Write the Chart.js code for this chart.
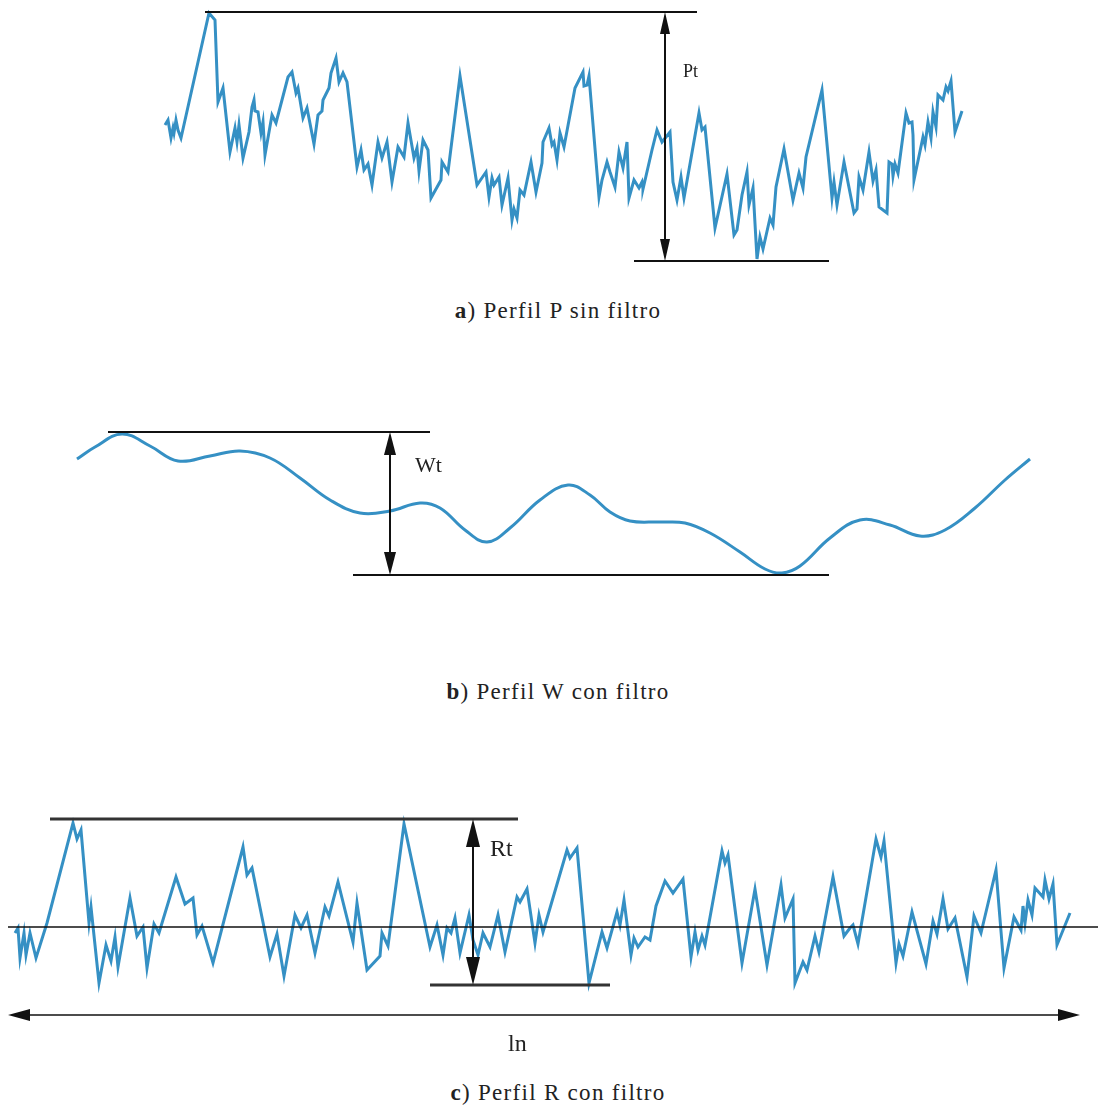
<!DOCTYPE html>
<html>
<head>
<meta charset="utf-8">
<script src="https://cdn.jsdelivr.net/npm/chart.js@4.4.1/dist/chart.umd.min.js"></script>
<style>
  body { margin: 0; background: #fff; width: 1098px; height: 1111px; position: relative; overflow: hidden; font-family: "Liberation Serif", "Noto Serif", "DejaVu Serif", "Times New Roman", serif; }
  canvas { position: absolute; left: 0; }
  .pie { position: absolute; left: 9px; width: 1098px; text-align: center; font-size: 23px; letter-spacing: 1.3px; color: #222; line-height: 1; }
</style>
</head>
<body>
<canvas id="graficaP" width="1098" height="280" style="top:0px"></canvas>
<div class="pie" style="top:299px"><b>a</b>) Perfil P sin filtro</div>
<canvas id="graficaW" width="1098" height="200" style="top:400px"></canvas>
<div class="pie" style="top:680px"><b>b</b>) Perfil W con filtro</div>
<canvas id="graficaR" width="1098" height="275" style="top:790px"></canvas>
<div class="pie" style="top:1081px"><b>c</b>) Perfil R con filtro</div>

<script>
/*------------------------- DATOS -------------------------*/
// Perfil P (sin filtro): posicion x y altura sobre el valle mas bajo
var posP = [165,168,171,173,174,176,178,181,209,215,218,223,230,235,237,239,243,249,252,254,255,258,261,263,265,272,276,288,292,296,298,303,307,314,318,322,323,329,331,336,339,343,347,357,361,364,368,372,378,382,387,392,398,404,408,414,417,419,423,428,431,441,442,448,460,477,486,489,492,494,499,502,508,512,514,517,520,524,531,536,542,543,549,552,554,557,560,564,575,583,584,587,589,599,602,607,610,615,619,623,627,629,634,639,642,643,652,657,662,670,673,677,681,684,699,702,705,715,727,734,737,742,747,749,753,757,760,763,770,773,776,784,793,799,803,806,822,832,834,837,844,854,857,859,863,869,873,876,879,887,889,892,893,895,898,906,909,912,913,914,923,925,928,931,933,936,938,943,946,948,951,955,962];
var alturaP = [136,141,123,133,128,141,131,123,248,241,159,173,109,133,119,136,103,129,154,161,150,149,128,139,106,146,138,184,189,168,173,143,153,117,146,150,161,173,188,203,179,188,179,94,111,91,97,76,119,103,119,79,114,104,138,103,113,90,121,111,63,81,99,89,185,76,89,64,83,76,84,56,83,41,52,43,71,66,99,69,98,119,133,116,119,101,128,114,173,189,175,176,185,64,81,99,89,74,109,93,119,63,81,73,79,72,111,131,119,129,79,61,84,63,148,131,134,33,87,26,31,66,89,56,73,2,24,12,43,36,74,112,61,88,73,104,171,63,79,56,99,48,52,84,71,109,80,91,54,48,99,97,85,97,88,148,138,139,126,81,124,116,139,123,149,134,166,161,174,170,180,129,150];

// Perfil W (ondulacion): altura sobre el valle mas bajo
var posW = [77,95,122,150,178,210,240,270,300,330,360,390,420,440,465,487,510,540,568,590,610,630,660,685,710,740,765,782,800,830,860,890,920,945,975,1005,1030];
var alturaW = [116,128,141,129,114,119,124,117,97,75,62,64,72,67,45,33,47,75,90,80,63,54,53,52,42,23,6,2,9,37,55,50,39,45,67,95,116];

// Perfil R (rugosidad): altura respecto a la linea media
var posR = [15,18,20,24,26,30,36,47,73,77,81,89,91,99,106,111,115,118,130,137,143,147,154,159,176,185,193,197,202,213,243,247,252,270,277,284,295,301,307,315,325,329,338,353,357,367,380,382,388,404,430,437,443,447,451,455,460,469,473,478,483,490,498,505,517,520,527,535,539,543,567,570,577,589,602,607,617,620,624,631,634,638,645,650,656,665,673,683,691,695,698,702,705,722,725,728,742,755,767,781,785,793,795,803,807,815,819,833,844,850,853,858,876,881,884,896,899,903,912,926,933,937,943,948,955,967,974,981,996,1004,1014,1021,1023,1025,1028,1032,1035,1043,1045,1049,1053,1057,1070];
var alturaR = [-6,-1,-31,-6,-28,-6,-31,4,104,88,97,4,20,-56,-18,-34,-10,-40,29,-9,0,-41,3,-6,50,23,29,-8,1,-36,80,52,59,-30,-7,-49,12,-1,12,-26,20,11,45,-15,24,-43,-29,-6,-19,103,-20,2,-28,-1,-6,9,-26,12,-13,-28,-6,-20,12,-25,30,25,38,-16,12,-5,77,69,79,-56,-5,-21,15,2,27,-28,-11,-20,-10,-13,21,46,34,48,-30,-5,-23,-9,-18,76,64,72,-36,38,-38,42,9,28,-56,-35,-43,-9,-25,50,-9,-1,2,-17,88,70,86,-36,-17,-29,15,-37,6,-7,28,-2,9,-50,11,-6,57,-41,10,-3,21,4,27,12,39,30,47,28,43,-18,14];

// Cotas: [x inicio, x fin, altura]
var lineasP = [[205, 697, 249], [634, 829, 0]];
var flechaP = [665, 249, 0];
var lineasW = [[108, 430, 143], [353, 829, 0]];
var flechaW = [390, 143, 0];
var lineasR = [[50, 518, 108], [430, 610, -58]];
var flechaR = [473, 108, -58];
var mediaR = [8, 1098, 0];
var longitudR = [8, 1080, -88];

var azul = '#3590c4';
var fuente = '"Liberation Serif", "Noto Serif", "DejaVu Serif", "Times New Roman", serif';

function puntos(xs, ys){
    let arreglo = [];
    for(let i=0; i<xs.length; i++){
        arreglo.push({x: xs[i], y: ys[i]});
    }
    return arreglo;
}

function cabeza(ctx, x, y, dx, dy, largo, ancho){
    // punta en (x,y), apuntando en direccion (dx,dy)
    ctx.beginPath();
    ctx.moveTo(x, y);
    ctx.lineTo(x - dx*largo - dy*ancho, y - dy*largo + dx*ancho);
    ctx.lineTo(x - dx*largo + dy*ancho, y - dy*largo - dx*ancho);
    ctx.closePath();
    ctx.fill();
}

const pluginCotas = {
    id: 'cotas',
    afterDatasetsDraw(chart, args, op){
        const ctx = chart.ctx;
        const sx = chart.scales.x, sy = chart.scales.y;
        ctx.save();
        ctx.fillStyle = '#111';
        (op.lineas || []).forEach(function(l){
            ctx.strokeStyle = op.colorLinea || '#111';
            ctx.lineWidth = op.grosor || 2;
            ctx.beginPath();
            ctx.moveTo(sx.getPixelForValue(l[0]), sy.getPixelForValue(l[2]));
            ctx.lineTo(sx.getPixelForValue(l[1]), sy.getPixelForValue(l[2]));
            ctx.stroke();
        });
        if(op.media){
            ctx.strokeStyle = '#111';
            ctx.lineWidth = 1.3;
            ctx.beginPath();
            ctx.moveTo(sx.getPixelForValue(op.media[0]), sy.getPixelForValue(op.media[2]));
            ctx.lineTo(sx.getPixelForValue(op.media[1]), sy.getPixelForValue(op.media[2]));
            ctx.stroke();
        }
        if(op.flecha){
            const f = op.flecha;
            const x = sx.getPixelForValue(f[0]);
            const y1 = sy.getPixelForValue(f[1]), y2 = sy.getPixelForValue(f[2]);
            ctx.strokeStyle = '#111';
            ctx.lineWidth = 2;
            ctx.beginPath();
            ctx.moveTo(x, y1 + 5);
            ctx.lineTo(x, y2 - 5);
            ctx.stroke();
            cabeza(ctx, x, y1, 0, -1, op.largo, op.ancho);
            cabeza(ctx, x, y2, 0, 1, op.largo, op.ancho);
        }
        if(op.longitud){
            const g = op.longitud;
            const x1 = sx.getPixelForValue(g[0]), x2 = sx.getPixelForValue(g[1]);
            const y = sy.getPixelForValue(g[2]);
            ctx.strokeStyle = '#111';
            ctx.lineWidth = 1.5;
            ctx.beginPath();
            ctx.moveTo(x1 + 5, y);
            ctx.lineTo(x2 - 5, y);
            ctx.stroke();
            cabeza(ctx, x1, y, -1, 0, 22, 6);
            cabeza(ctx, x2, y, 1, 0, 22, 6);
        }
        (op.textos || []).forEach(function(t){
            ctx.font = t.tam + 'px ' + fuente;
            ctx.fillStyle = '#222';
            ctx.textBaseline = 'alphabetic';
            ctx.fillText(t.texto, sx.getPixelForValue(t.x), sy.getPixelForValue(t.y));
        });
        ctx.restore();
    }
};

function graficar(id, xs, ys, minY, maxY, curva, cotas){
    return new Chart(document.getElementById(id).getContext('2d'), {
        type: 'line',
        data: {
            datasets: [{
                data: puntos(xs, ys),
                borderColor: azul,
                borderWidth: 3,
                pointRadius: 0,
                tension: curva,
                fill: false
            }]
        },
        options: {
            responsive: false,
            animation: false,
            layout: {padding: 0},
            scales: {
                x: {type: 'linear', min: 0, max: 1098, display: false},
                y: {type: 'linear', min: minY, max: maxY, display: false}
            },
            plugins: {
                legend: {display: false},
                tooltip: {enabled: false},
                cotas: cotas
            }
        },
        plugins: [pluginCotas]
    });
}

/*------------------------- GRAFICAS -------------------------*/
graficar('graficaP', posP, alturaP, -19, 261, 0, {
    lineas: lineasP, flecha: flechaP, largo: 22, ancho: 5, grosor: 2,
    textos: [{texto: 'Pt', x: 683, y: 184, tam: 18}]
});

graficar('graficaW', posW, alturaW, -25, 175, 0.4, {
    lineas: lineasW, flecha: flechaW, largo: 23, ancho: 6, grosor: 2,
    textos: [{texto: 'Wt', x: 415, y: 103, tam: 22}]
});

graficar('graficaR', posR, alturaR, -138, 137, 0, {
    lineas: lineasR, flecha: flechaR, largo: 28, ancho: 7, grosor: 3, colorLinea: '#333',
    media: mediaR, longitud: longitudR,
    textos: [{texto: 'Rt', x: 490, y: 71, tam: 24}, {texto: 'ln', x: 508, y: -124, tam: 24}]
});
</script>
</body>
</html>
